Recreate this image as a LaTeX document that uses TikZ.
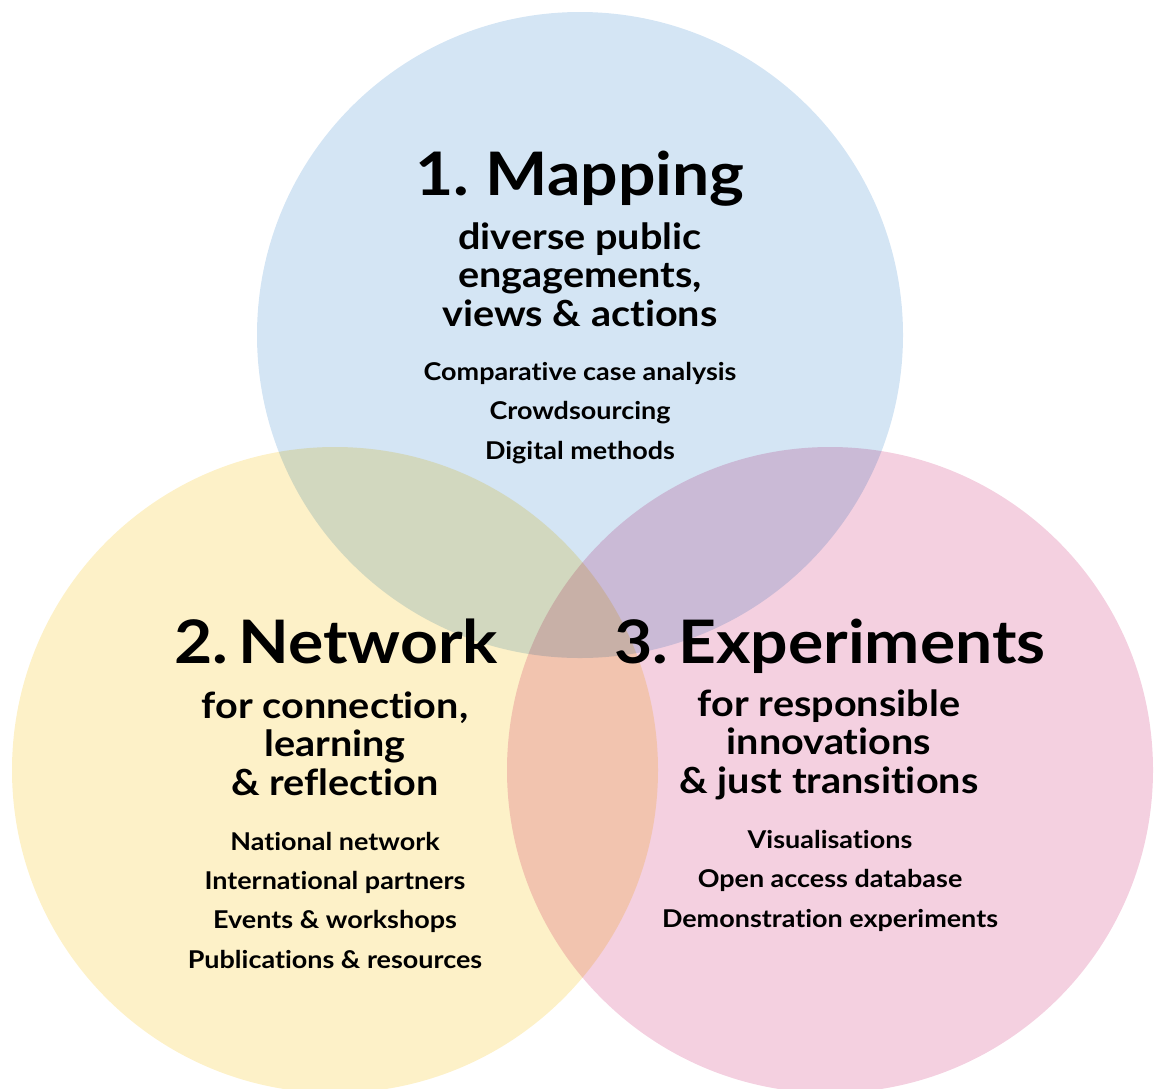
\documentclass[tikz,border=0pt]{standalone}
\usepackage{fontspec}
\setmainfont[FakeStretch=1.1,Ligatures=NoCommon]{Lato}
\frenchspacing
\definecolor{vennblue}{RGB}{212,229,244}
\definecolor{vennyellow}{RGB}{253,241,200}
\definecolor{vennpink}{RGB}{244,208,224}
\begin{document}
\begin{tikzpicture}[x=1pt,y=-1pt]
        \tikzset{
            style venn/.style={circle,minimum size=646pt,inner sep=0pt,draw=none},
            style venn-blue/.style={style venn,fill=vennblue},
            style venn-yellow/.style={style venn,fill=vennyellow},
            style venn-pink/.style={style venn,fill=vennpink},
            style title/.style={font=\fontsize{60}{70}\selectfont\bfseries,anchor=base,inner sep=0pt},
            style sub/.style={font=\fontsize{36}{38.5}\selectfont\bfseries,align=center,anchor=base,inner sep=0pt},
            style items/.style={font=\fontsize{24.5}{39.3}\selectfont\bfseries,align=center,anchor=base,inner sep=0pt}
        };
        \useasboundingbox (0,0) rectangle (1158,1088);
        \begin{scope}[blend group=multiply]
            \node[style venn-blue] (c-map) at (580,335) {};
            \node[style venn-yellow] (c-net) at (335,770) {};
            \node[style venn-pink] (c-exp) at (830,770) {};
        \end{scope}
        \node[style title] (t-map) at (580,195) {1. Mapping};
        \node[style sub] (s-map) at (580,326) {diverse public\\engagements,\\views \& actions};
        \node[style items] (i-map) at (580,459) {Comparative case analysis\\Crowdsourcing\\Digital methods};
        \node[style title] (t-net) at (336,663) {2.\,Network};
        \node[style sub] (s-net) at (335,795) {for connection,\\learning\\\& reflection};
        \node[style items] (i-net) at (335,968) {National network\\International partners\\Events \& workshops\\Publications \& resources};
        \node[style title] (t-exp) at (830,663) {3.\,Experiments};
        \node[style sub] (s-exp) at (829,793) {for responsible\\innovations\\\& just transitions};
        \node[style items] (i-exp) at (830,927) {Visualisations\\Open access database\\Demonstration experiments};
\end{tikzpicture}
\end{document}
